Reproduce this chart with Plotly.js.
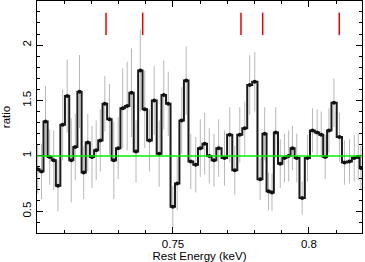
<!DOCTYPE html>
<html>
<head>
<meta charset="utf-8">
<script src="https://cdn.plot.ly/plotly-3.0.1.min.js"></script>
<style>html,body{margin:0;padding:0;background:#fff;}#chart{width:365px;height:262px;}</style>
</head>
<body>
<div id="chart"></div>
<script>
// Bin centres (keV, rest frame)
var energy = [0.70026,0.70165,0.70313,0.70467,0.70614,0.70772,0.70945,0.71110,0.71261,0.71408,
  0.71563,0.71717,0.71868,0.72022,0.72176,0.72327,0.72493,0.72665,0.72824,0.72985,
  0.73151,0.73316,0.73474,0.73640,0.73798,0.73963,0.74136,0.74309,0.74493,0.74662,
  0.74827,0.74993,0.75154,0.75320,0.75485,0.75654,0.75838,0.76004,0.76165,0.76335,
  0.76507,0.76680,0.76893,0.77088,0.77272,0.77456,0.77640,0.77820,0.78007,0.78206,
  0.78371,0.78511,0.78640,0.78779,0.78945,0.79099,0.79254,0.79393,0.79551,0.79750,
  0.79945,0.80129,0.80301,0.80452,0.80596,0.80735,0.80919,0.81121,0.81305,0.81489,
  0.81665,0.81813,0.81912];
// Data/model ratio
var ratio = [0.88,0.86,1.31,0.99,0.96,0.73,1.28,1.54,0.96,1.08,
  1.58,0.85,1.12,0.99,1.05,1.14,1.47,1.33,0.96,1.07,
  1.43,1.45,1.57,1.04,1.77,1.42,1.14,1.50,1.02,1.55,
  1.47,0.54,0.75,1.32,1.68,0.95,0.92,1.07,1.11,1.00,
  0.96,1.07,0.98,1.19,0.87,1.19,1.25,1.64,1.67,0.79,
  1.20,0.68,0.67,1.21,0.93,0.98,1.00,1.07,0.98,0.62,
  0.98,1.23,1.21,1.19,0.99,1.23,1.48,1.17,0.94,0.95,
  0.98,0.99,0.89];
// 1-sigma errors
var ratioErr = [0.22,0.25,0.32,0.25,0.27,0.23,0.32,0.33,0.38,0.30,
  0.33,0.24,0.26,0.28,0.27,0.28,0.25,0.32,0.35,0.28,
  0.36,0.40,0.40,0.28,0.37,0.35,0.28,0.31,0.30,0.31,
  0.29,0.19,0.24,0.30,0.31,0.25,0.25,0.26,0.28,0.25,
  0.24,0.26,0.25,0.25,0.22,0.25,0.24,0.27,0.27,0.19,
  0.24,0.17,0.17,0.23,0.22,0.22,0.23,0.20,0.22,0.15,
  0.21,0.20,0.21,0.21,0.20,0.20,0.22,0.22,0.20,0.20,
  0.21,0.21,0.20];
// Line identifications (red markers)
var lineEnergy = [0.72537, 0.73886, 0.77500, 0.78298, 0.81114];
var lineMarkLow = 2.09, lineMarkHigh = 2.293;
var unityLevel = 1;
var xTickVals = [0.75, 0.80];
var xTickText = ['0.75', '0.8'];

var font = {family: 'Liberation Sans, Arial, sans-serif', size: 11.5, color: '#000'};

var traces = [
  {x: energy, y: ratio, type: 'scatter', mode: 'markers',
   marker: {size: 1, color: 'rgba(0,0,0,0)'},
   error_y: {type: 'data', array: ratioErr, visible: true, color: '#b8b8b8', thickness: 1, width: 0},
   hoverinfo: 'skip', showlegend: false},
  {x: energy, y: ratio, type: 'scatter', mode: 'lines+markers',
   line: {shape: 'hvh', color: '#1a1a1a', width: 2},
   marker: {size: 4, color: '#111'}, showlegend: false}
];

var shapes = [{type: 'line', xref: 'paper', x0: 0, x1: 1, yref: 'y', y0: unityLevel, y1: unityLevel,
  line: {color: '#00f000', width: 1.5}, layer: 'above'}];
lineEnergy.forEach(function (e) {
  shapes.push({type: 'line', xref: 'x', x0: e, x1: e, yref: 'y', y0: lineMarkLow, y1: lineMarkHigh,
    line: {color: '#ee0000', width: 1.5}});
});

var layout = {
  width: 365, height: 262,
  margin: {l: 37, r: 3, t: 1, b: 29, pad: 0},
  paper_bgcolor: '#fff', plot_bgcolor: '#fff',
  font: font,
  showlegend: false,
  xaxis: {
    range: [0.70, 0.8195], showgrid: false, zeroline: false,
    showline: true, linecolor: '#000', linewidth: 1.3, mirror: 'ticks',
    ticks: 'inside', ticklen: 6, tickwidth: 1, tickcolor: '#000',
    tickmode: 'array', tickvals: xTickVals, ticktext: xTickText,
    minor: {tickmode: 'linear', tick0: 0.70, dtick: 0.01, ticks: 'inside', ticklen: 3, tickwidth: 1, tickcolor: '#000', showgrid: false},
    tickfont: font,
    title: {text: 'Rest Energy (keV)', font: font, standoff: 1}
  },
  yaxis: {
    range: [0.304, 2.398], showgrid: false, zeroline: false,
    showline: true, linecolor: '#000', linewidth: 1.3, mirror: 'ticks',
    ticks: 'inside', ticklen: 6, tickwidth: 1, tickcolor: '#000',
    tick0: 0, dtick: 0.5, tickangle: -90,
    minor: {tick0: 0, dtick: 0.1, ticks: 'inside', ticklen: 3, tickwidth: 1, tickcolor: '#000', showgrid: false},
    tickfont: font,
    title: {text: 'ratio', font: font, standoff: 9}
  },
  shapes: shapes
};

Plotly.newPlot('chart', traces, layout, {displayModeBar: false, staticPlot: true});
</script>
</body>
</html>
